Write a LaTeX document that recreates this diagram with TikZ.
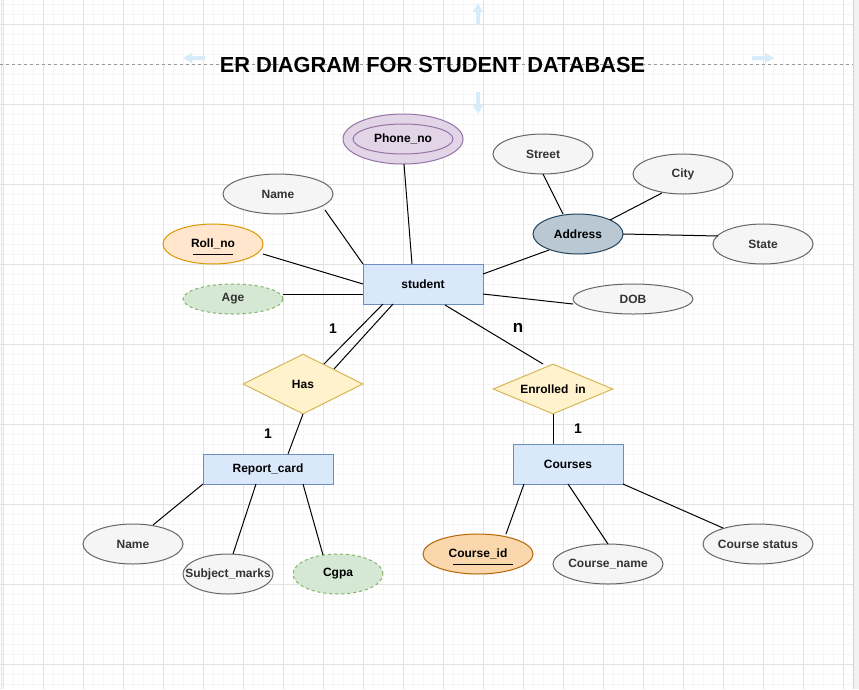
\documentclass[tikz,border=0pt]{standalone}
\usepackage{fontspec}
\setmainfont{Liberation Sans}
\usetikzlibrary{shapes.geometric,calc}
\definecolor{entF}{HTML}{DAE8FC}
\definecolor{entS}{HTML}{6C8EBF}
\definecolor{attF}{HTML}{F5F5F5}
\definecolor{attS}{HTML}{666666}
\definecolor{txtG}{HTML}{333333}
\definecolor{keyF}{HTML}{FFE6CC}
\definecolor{keyS}{HTML}{D79B00}
\definecolor{key2F}{HTML}{FAD7AC}
\definecolor{key2S}{HTML}{B46504}
\definecolor{derF}{HTML}{D5E8D4}
\definecolor{derS}{HTML}{82B366}
\definecolor{mulF}{HTML}{E1D5E7}
\definecolor{mulS}{HTML}{9673A6}
\definecolor{comF}{HTML}{BAC8D3}
\definecolor{comS}{HTML}{23445D}
\definecolor{relF}{HTML}{FFF2CC}
\definecolor{relS}{HTML}{D6B656}
\definecolor{gridMinor}{HTML}{F6F6F6}
\definecolor{gridMajor}{HTML}{E2E2E2}
\definecolor{hoverBlue}{HTML}{D6ECFB}
\tikzset{
  base/.style={inner sep=0pt, line width=1pt},
  lt/.style={font=\bfseries\fontsize{12}{14}\selectfont, text=black},
  lg/.style={lt, text=txtG},
  ent/.style={base, rectangle, draw=entS, fill=entF, lt},
  att/.style={base, ellipse, draw=attS, fill=attF},
  keyatt/.style={base, ellipse, draw=keyS, fill=keyF},
  keyatttwo/.style={base, ellipse, draw=key2S, fill=key2F},
  der/.style={base, ellipse, draw=derS, fill=derF, dash pattern=on 3pt off 3pt},
  mul/.style={base, ellipse, draw=mulS, fill=mulF},
  com/.style={base, ellipse, draw=comS, fill=comF},
  rel/.style={base, diamond, draw=relS, fill=relF, lt},
  conn/.style={draw=black, line width=1pt},
  uline/.style={draw=black, line width=1pt},
  card/.style={font=\bfseries\fontsize{14}{16}\selectfont, text=black},
  hover/.style={fill=hoverBlue, draw=none},
}
\begin{document}
\begin{tikzpicture}[x=1pt,y=-1pt]
\useasboundingbox (0,0) rectangle (859,689);
% background grid
\fill[white] (0,0) rectangle (859,689);
\foreach \x in {3,13,...,853} \draw[gridMinor, line width=0.8pt] (\x,0) -- (\x,689);
\foreach \y in {4,14,...,684} \draw[gridMinor, line width=0.8pt] (0,\y) -- (853,\y);
\foreach \x in {3,43,...,843} \draw[gridMajor, line width=0.8pt] (\x,0) -- (\x,689);
\foreach \y in {24,104,...,664} \draw[gridMajor, line width=0.8pt] (0,\y) -- (853,\y);
\draw[black!12, line width=1pt] (1,0) -- (1,689);
\draw[black!18, line width=1pt] (853,0) -- (853,689);
\fill[black!5] (854,0) rectangle (859,689);
% guide line
\draw[black!40, line width=0.8pt, dash pattern=on 3pt off 3pt] (0,64) -- (853,64);
% hover arrows
\fill[hover] (476,25) -- (476,12) -- (473,12) -- (478,3) -- (483,12) -- (480,12) -- (480,25) -- cycle;
\fill[hover] (476,92) -- (476,105) -- (473,105) -- (478,114) -- (483,105) -- (480,105) -- (480,92) -- cycle;
\fill[hover] (205,56) -- (192,56) -- (192,53) -- (183,58) -- (192,63) -- (192,60) -- (205,60) -- cycle;
\fill[hover] (752,56) -- (765,56) -- (765,53) -- (774,58) -- (765,63) -- (765,60) -- (752,60) -- cycle;
% title
\node[font=\bfseries\fontsize{21.8}{24}\selectfont, inner sep=0pt] (title) at (432.5,64.5) {ER DIAGRAM FOR STUDENT DATABASE};

% entities
\node[ent, minimum width=120, minimum height=40] (student) at (423,284) {student};
\node[ent, minimum width=130, minimum height=30] (rc) at (268,469) {Report\_card};
\node[ent, minimum width=110, minimum height=40] (courses) at (568,464) {Courses};

% relationships
\node[rel, minimum width=120, minimum height=60] (has) at (303,384) {};
\node[lt] at (has.center) {Has};
\node[rel, minimum width=120, minimum height=50] (enr) at (553,389) {};
\node[lt] at (enr.center) {Enrolled\ \ in};

% attributes of student
\node[mul, minimum width=120, minimum height=50] (phone) at (403,139) {};
\node[mul, minimum width=100, minimum height=30, label={[lt]center:Phone\_no}] (phonein) at (403,139) {};
\node[att, minimum width=110, minimum height=40, label={[lg]center:Name}] (name1) at (278,194) {};
\node[keyatt, minimum width=100, minimum height=40, label={[lt]center:Roll\_no}] (roll) at (213,244) {};
\draw[uline] ($(roll.center)+(-20,10)$) -- ($(roll.center)+(20,10)$);
\node[der, minimum width=100, minimum height=30, label={[lt, text=txtG]center:Age}] (age) at (233,299) {};
\node[com, minimum width=90, minimum height=40, label={[lt]center:Address}] (addr) at (578,234) {};
\node[att, minimum width=100, minimum height=40, label={[lg]center:Street}] (street) at (543,154) {};
\node[att, minimum width=100, minimum height=40, label={[lg]center:City}] (city) at (683,174) {};
\node[att, minimum width=100, minimum height=40, label={[lg]center:State}] (state) at (763,244) {};
\node[att, minimum width=120, minimum height=30, label={[lg]center:DOB}] (dob) at (633,299) {};

% attributes of report card
\node[att, minimum width=100, minimum height=40, label={[lg]center:Name}] (name2) at (133,544) {};
\node[att, minimum width=90, minimum height=40, label={[lg]center:Subject\_marks}] (sm) at (228,574) {};
\node[der, minimum width=90, minimum height=40, label={[lt]center:Cgpa}] (cgpa) at (338,574) {};

% attributes of courses
\node[keyatttwo, minimum width=110, minimum height=40, label={[lt]center:Course\_id}] (cid) at (478,554) {};
\draw[uline] ($(cid.center)+(-25,10)$) -- ($(cid.center)+(35,10)$);
\node[att, minimum width=110, minimum height=40, label={[lg]center:Course\_name}] (cname) at (608,564) {};
\node[att, minimum width=110, minimum height=40, label={[lg]center:Course status}] (cstat) at (758,544) {};

% connectors
\draw[conn] ($(phone.center)+(1,25)$) -- ($(student.center)+(-11,-20)$);
\draw[conn] ($(name1.center)+(47,16)$) -- ($(student.center)+(-60,-20)$);
\draw[conn] ($(roll.center)+(50,10)$) -- ($(student.center)+(-60,0)$);
\draw[conn] ($(age.center)+(50,-5)$) -- ($(student.center)+(-60,10)$);
\draw[conn] ($(addr.center)+(-29,16)$) -- ($(student.center)+(60,-10)$);
\draw[conn] ($(street.center)+(0,20)$) -- ($(addr.center)+(-15,-20)$);
\draw[conn] ($(city.center)+(-21,19)$) -- ($(addr.center)+(32,-14)$);
\draw[conn] ($(addr.center)+(45,0)$) -- ($(state.center)+(-45,-8)$);
\draw[conn] ($(dob.center)+(-60,5)$) -- ($(student.center)+(60,10)$);
\draw[conn] ($(student.center)+(-40,20)$) -- ($(has.center)+(21,-20)$);
\draw[conn] ($(student.center)+(-30,20)$) -- ($(has.center)+(31,-15)$);
\draw[conn] ($(has.center)+(0,30)$) -- ($(rc.center)+(20,-15)$);
\draw[conn] ($(student.center)+(22,21)$) -- ($(enr.center)+(-10,-25)$);
\draw[conn] ($(enr.center)+(0,25)$) -- ($(courses.center)+(-15,-20)$);
\draw[conn] ($(rc.center)+(-65,15)$) -- ($(name2.center)+(20,-19)$);
\draw[conn] ($(rc.center)+(-12,15)$) -- ($(sm.center)+(5,-20)$);
\draw[conn] ($(rc.center)+(35,15)$) -- ($(cgpa.center)+(-15,-19)$);
\draw[conn] ($(courses.center)+(-44,20)$) -- ($(cid.center)+(28,-20)$);
\draw[conn] ($(courses.center)+(0,20)$) -- ($(cname.center)+(0,-20)$);
\draw[conn] ($(courses.center)+(55,20)$) -- ($(cstat.center)+(-35,-16)$);

% cardinalities
\node[card] (c1) at (333,329) {1};
\node[card, font=\bfseries\fontsize{17}{19}\selectfont] (c2) at (518,328) {n};
\node[card] (c3) at (268,434) {1};
\node[card] (c4) at (578,429) {1};
\end{tikzpicture}
\end{document}
